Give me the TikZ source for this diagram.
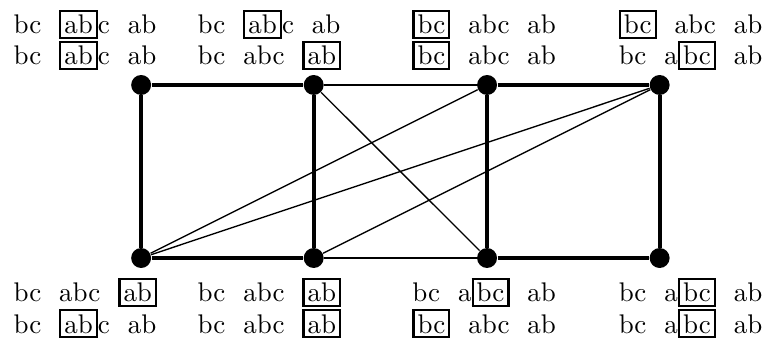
\documentclass[tikz,border=0pt]{standalone}
\usepackage{amsmath}
\usepackage{amssymb}
\usepackage{tikz}
\usetikzlibrary{arrows, arrows.meta}
\tikzset{vertex/.style = {shape = circle, fill, inner sep = 0pt, minimum size = 0.26cm}}
\tikzset{edge/.style = {-, line width = 0.5pt}}
\tikzset{boldedge/.style = {-, line width = 1.5pt}}
\tikzset{lbl/.style = {anchor = base west, inner sep = 0pt}}
\setlength{\fboxsep}{1.1pt}
\setlength{\fboxrule}{0.8pt}
\newcommand{\bx}[1]{\fbox{#1}}

\begin{document}
\begin{tikzpicture}
				\useasboundingbox (0, 0) rectangle (10, 4.485);

				\node[vertex] (t1) at (1.84, 3.377) {};
				\node[vertex] (t2) at (4.09, 3.377) {};
				\node[vertex] (t3) at (6.35, 3.377) {};
				\node[vertex] (t4) at (8.60, 3.377) {};
				\node[vertex] (b1) at (1.84, 1.121) {};
				\node[vertex] (b2) at (4.09, 1.121) {};
				\node[vertex] (b3) at (6.35, 1.121) {};
				\node[vertex] (b4) at (8.60, 1.121) {};

				\draw[boldedge] (t1) -- (t2);
				\draw[boldedge] (t3) -- (t4);
				\draw[boldedge] (b1) -- (b2);
				\draw[boldedge] (b3) -- (b4);
				\draw[boldedge] (t1) -- (b1);
				\draw[boldedge] (t2) -- (b2);
				\draw[boldedge] (t3) -- (b3);
				\draw[boldedge] (t4) -- (b4);

				\draw[edge] (t2) -- (t3);
				\draw[edge] (b2) -- (b3);
				\draw[edge] (t2) -- (b3);
				\draw[edge] (b1) -- (t3);
				\draw[edge] (b1) -- (t4);
				\draw[edge] (b2) -- (t4);

				% labels of the top row
				\node[lbl] (t1a) at (0.17, 4.045) {bc~~\bx{ab}c~~ab};
				\node[lbl] (t1b) at (0.17, 3.645) {bc~~\bx{ab}c~~ab};
				\node[lbl] (t2a) at (2.57, 4.045) {bc~~\bx{ab}c~~ab};
				\node[lbl] (t2b) at (2.57, 3.645) {bc~~abc~~\bx{ab}};
				\node[lbl] (t3a) at (5.37, 4.045) {\bx{bc}~~abc~~ab};
				\node[lbl] (t3b) at (5.37, 3.645) {\bx{bc}~~abc~~ab};
				\node[lbl] (t4a) at (8.06, 4.045) {\bx{bc}~~abc~~ab};
				\node[lbl] (t4b) at (8.06, 3.645) {bc~~a\bx{bc}~~ab};

				% labels of the bottom row
				\node[lbl] (b1a) at (0.17, 0.548) {bc~~abc~~\bx{ab}};
				\node[lbl] (b1b) at (0.17, 0.143) {bc~~\bx{ab}c~~ab};
				\node[lbl] (b2a) at (2.57, 0.548) {bc~~abc~~\bx{ab}};
				\node[lbl] (b2b) at (2.57, 0.143) {bc~~abc~~\bx{ab}};
				\node[lbl] (b3a) at (5.37, 0.548) {bc~~a\bx{bc}~~ab};
				\node[lbl] (b3b) at (5.37, 0.143) {\bx{bc}~~abc~~ab};
				\node[lbl] (b4a) at (8.06, 0.548) {bc~~a\bx{bc}~~ab};
				\node[lbl] (b4b) at (8.06, 0.143) {bc~~a\bx{bc}~~ab};
			\end{tikzpicture}
\end{document}
